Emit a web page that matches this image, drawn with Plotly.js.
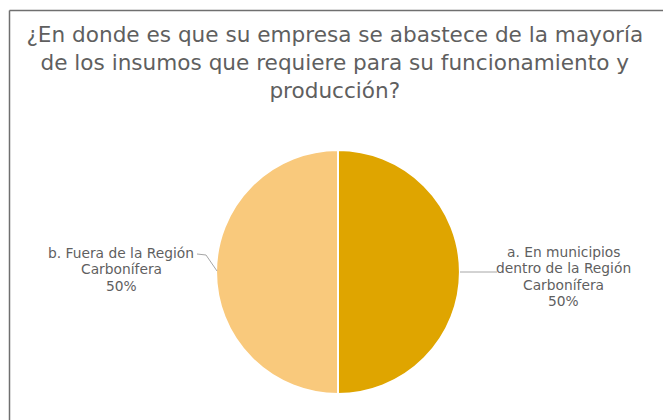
<!DOCTYPE html>
<html>
<head>
<meta charset="utf-8">
<script src="https://cdn.plot.ly/plotly-3.0.1.min.js"></script>
<style>
  html, body { margin: 0; padding: 0; background: #ffffff; }
  #chart { width: 663px; height: 420px; }
</style>
</head>
<body>
<div id="chart"></div>
<script>
// Survey answer categories and their counts
const categories = [
  "a. En municipios dentro de la Región Carbonífera",
  "b. Fuera de la Región Carbonífera"
];
// Line-broken versions for the outside labels
const labelLines = [
  ["a. En municipios", "dentro de la Región", "Carbonífera"],
  ["b. Fuera de la Región", "Carbonífera"]
];
const values = [50, 50];
const colors = ["#DFA500", "#F9C97C"];

const W = 663, H = 420;
const total = values.reduce((s, v) => s + v, 0);
const pct = values.map(v => Math.round(v / total * 100) + "%");

// Pie placement in pixels
const cx = 338, cy = 272, r = 122;
const px = x => x / W;
const py = y => 1 - y / H;

const trace = {
  type: "pie",
  labels: categories,
  values: values,
  sort: false,
  direction: "clockwise",
  rotation: 0,
  textinfo: "none",
  hoverinfo: "label+percent",
  marker: { colors: colors, line: { color: "#ffffff", width: 2 } },
  domain: { x: [px(cx - r), px(cx + r)], y: [py(cy + r), py(cy - r)] },
  showlegend: false
};

const labelFont = { family: "DejaVu Sans, sans-serif", size: 13.8, color: "#5f5f5f" };

// Outside labels: one annotation per text line for a tight line pitch
const labelAnchors = [
  { x: 563, y: 252 },   // slice a, right of the pie
  { x: 121, y: 253 }    // slice b, left of the pie
];
const linePitch = 16.3;
const annotations = [];
labelLines.forEach((lines, i) => {
  lines.concat([pct[i]]).forEach((t, k) => {
    annotations.push({
      xref: "paper", yref: "paper",
      x: px(labelAnchors[i].x), y: py(labelAnchors[i].y + k * linePitch),
      xanchor: "center", yanchor: "middle",
      text: t, showarrow: false, font: labelFont
    });
  });
});

const leader = { color: "#A6A6A6", width: 1 };
const shapes = [
  // frame: left and top edges
  { type: "line", xref: "paper", yref: "paper", x0: px(9.5), y0: py(10.5), x1: px(9.5), y1: py(420), line: { color: "#6f6f6f", width: 1.5 } },
  { type: "line", xref: "paper", yref: "paper", x0: px(9.5), y0: py(10.5), x1: px(663), y1: py(10.5), line: { color: "#6f6f6f", width: 1.5 } },
  // leader lines
  { type: "line", xref: "paper", yref: "paper", x0: px(cx + r), y0: py(cy), x1: px(497), y1: py(cy), line: leader },
  { type: "path", xref: "paper", yref: "paper",
    path: "M " + px(197) + " " + py(254) + " L " + px(206) + " " + py(255) + " L " + px(cx - r + 1) + " " + py(cy - 1),
    line: leader }
];

const layout = {
  width: W, height: H,
  margin: { l: 0, r: 0, t: 0, b: 0 },
  paper_bgcolor: "#ffffff",
  title: {
    text: "¿En donde es que su empresa se abastece de la mayoría<br>de los insumos que requiere para su funcionamiento y<br>producción?",
    font: { family: "DejaVu Sans, sans-serif", size: 21.6, color: "#5f5f5f" },
    x: 0.505, xanchor: "center",
    y: py(42), yanchor: "top", yref: "paper"
  },
  annotations: annotations,
  shapes: shapes
};

Plotly.newPlot("chart", [trace], layout, { displayModeBar: false, staticPlot: true });
</script>
</body>
</html>
